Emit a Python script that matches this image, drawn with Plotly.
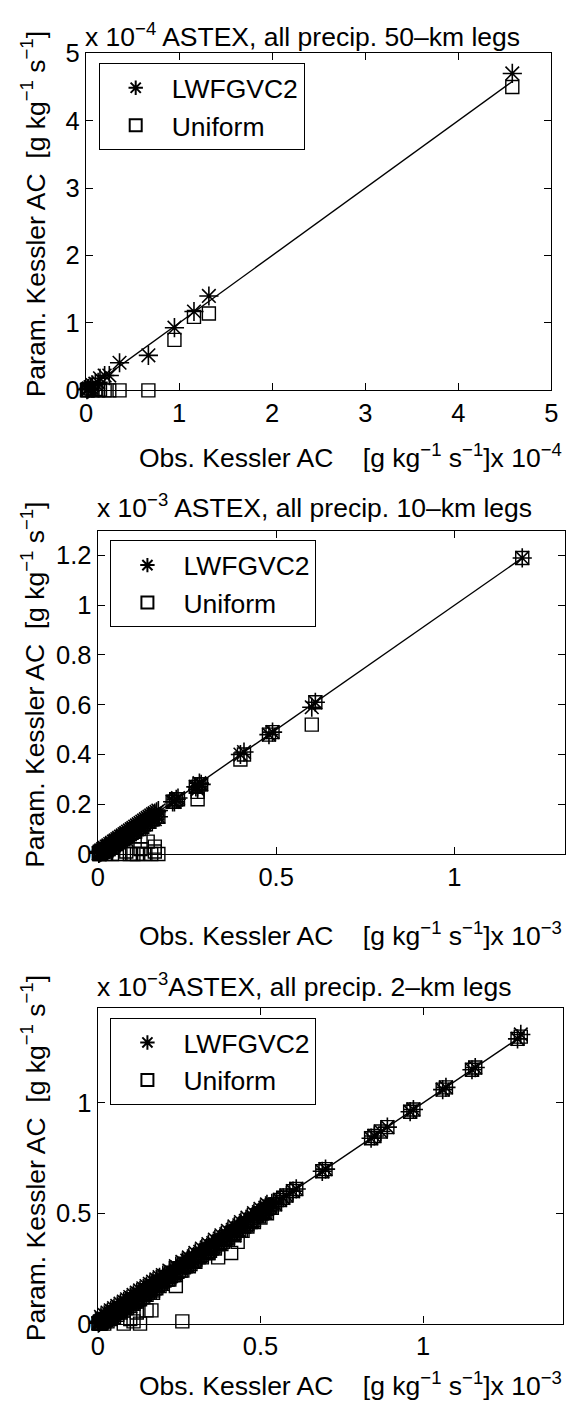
import plotly.graph_objects as go

# ---------------- data (values in units of the axis multiplier) ----------------
# Panel 1: 50-km legs, x 1e-4 g/kg/s
obs_50 = [4.58, 1.32, 1.16, 0.95, 0.67, 0.36, 0.25, 0.20, 0.15, 0.13, 0.10, 0.07, 0.05, 0.03, 0.02, 0.01]
lwf_50 = [4.70, 1.40, 1.17, 0.93, 0.52, 0.41, 0.22, 0.22, 0.18, 0.12, 0.10, 0.08, 0.05, 0.03, 0.02, 0.01]
uni_50 = [4.50, 1.14, 1.09, 0.75, 0.00, 0.00, 0.00, 0.00, 0.01, 0.00, 0.02, 0.00, 0.03, 0.01, 0.00, 0.00]

# Panel 2: 10-km legs, x 1e-3 g/kg/s
obs_10a = [1.19, 0.61, 0.60, 0.49, 0.48, 0.41, 0.40, 0.29, 0.28, 0.28, 0.22, 0.21, 0.17, 0.16, 0.16,
           0.15, 0.14, 0.13, 0.12, 0.12, 0.11, 0.10, 0.10, 0.09, 0.08, 0.08, 0.07, 0.06, 0.06, 0.05,
           0.05, 0.04, 0.04, 0.03, 0.03, 0.02, 0.02, 0.015, 0.01, 0.008, 0.005, 0.003]
lwf_10a = [1.19, 0.61, 0.59, 0.49, 0.48, 0.41, 0.40, 0.28, 0.27, 0.26, 0.22, 0.21, 0.15, 0.16, 0.14,
           0.14, 0.13, 0.12, 0.11, 0.11, 0.10, 0.10, 0.09, 0.08, 0.08, 0.07, 0.07, 0.06, 0.05, 0.05,
           0.05, 0.04, 0.04, 0.03, 0.03, 0.02, 0.02, 0.015, 0.01, 0.008, 0.005, 0.003]
uni_10a = [1.19, 0.61, 0.52, 0.49, 0.48, 0.40, 0.38, 0.28, 0.25, 0.22, 0.22, 0.21, 0.00, 0.01, 0.03,
           0.00, 0.05, 0.00, 0.07, 0.02, 0.00, 0.09, 0.00, 0.00, 0.07, 0.01, 0.06, 0.05, 0.00, 0.05,
           0.04, 0.03, 0.00, 0.03, 0.02, 0.02, 0.00, 0.01, 0.01, 0.008, 0.00, 0.003]
obs_10b = [0.285, 0.275, 0.225, 0.215, 0.17, 0.165, 0.16, 0.155, 0.15, 0.145, 0.14, 0.135, 0.13,
           0.125, 0.12, 0.115, 0.11, 0.105, 0.10, 0.095, 0.09, 0.085, 0.08, 0.075, 0.07, 0.065,
           0.06, 0.055, 0.05, 0.045, 0.04, 0.035, 0.03, 0.025, 0.02, 0.015, 0.01, 0.005]
lwf_10b = [0.285, 0.27, 0.225, 0.21, 0.175, 0.17, 0.165, 0.16, 0.155, 0.15, 0.145, 0.14, 0.135,
           0.13, 0.125, 0.12, 0.115, 0.11, 0.105, 0.10, 0.095, 0.09, 0.085, 0.08, 0.075, 0.07,
           0.065, 0.06, 0.055, 0.05, 0.045, 0.04, 0.035, 0.03, 0.025, 0.02, 0.015, 0.01]
uni_10b = [0.28, 0.27, 0.22, 0.21, 0.15, 0.15, 0.15, 0.14, 0.14, 0.13, 0.13, 0.12, 0.12,
           0.11, 0.11, 0.10, 0.10, 0.09, 0.09, 0.085, 0.08, 0.075, 0.07, 0.065, 0.06, 0.055,
           0.05, 0.045, 0.04, 0.035, 0.03, 0.025, 0.02, 0.015, 0.01, 0.01, 0.005, 0.0]
obs_10 = obs_10a + obs_10b
lwf_10 = lwf_10a + lwf_10b
uni_10 = uni_10a + uni_10b

# Panel 3: 2-km legs, x 1e-3 g/kg/s
obs_2a = [1.30, 1.29, 1.16, 1.15, 1.07, 1.06, 0.97, 0.96, 0.89, 0.87,
          0.85, 0.84, 0.70, 0.69, 0.61, 0.60, 0.58, 0.57, 0.56, 0.545,
          0.53, 0.52, 0.51, 0.505, 0.50, 0.49, 0.48, 0.47, 0.46, 0.45,
          0.445, 0.43, 0.425, 0.42, 0.41, 0.40, 0.39, 0.385, 0.37, 0.36,
          0.35, 0.345, 0.34, 0.33, 0.32, 0.31, 0.30, 0.29, 0.285, 0.28,
          0.27, 0.26, 0.255, 0.25, 0.24, 0.235, 0.23, 0.22, 0.215, 0.21,
          0.20, 0.195, 0.19, 0.18, 0.175, 0.17, 0.165, 0.16, 0.155, 0.15,
          0.145, 0.14, 0.135, 0.13, 0.125, 0.12, 0.115, 0.11, 0.105, 0.10,
          0.095, 0.09, 0.085, 0.08, 0.075, 0.07, 0.065, 0.06, 0.055, 0.05,
          0.045, 0.04, 0.035, 0.03, 0.025, 0.02, 0.015, 0.01, 0.005, 0.002]
lwf_2a = [1.31, 1.29, 1.16, 1.15, 1.07, 1.06, 0.97, 0.96, 0.89, 0.87,
          0.85, 0.84, 0.70, 0.69, 0.61, 0.60, 0.58, 0.57, 0.56, 0.54,
          0.53, 0.52, 0.51, 0.50, 0.50, 0.49, 0.48, 0.47, 0.46, 0.45,
          0.44, 0.43, 0.42, 0.40, 0.41, 0.40, 0.39, 0.38, 0.37, 0.36,
          0.35, 0.34, 0.33, 0.33, 0.32, 0.31, 0.30, 0.29, 0.28, 0.28,
          0.27, 0.26, 0.25, 0.25, 0.24, 0.23, 0.23, 0.22, 0.21, 0.21,
          0.20, 0.19, 0.19, 0.18, 0.17, 0.17, 0.16, 0.16, 0.15, 0.15,
          0.14, 0.14, 0.13, 0.13, 0.12, 0.12, 0.11, 0.11, 0.10, 0.10,
          0.09, 0.09, 0.08, 0.08, 0.07, 0.07, 0.06, 0.06, 0.05, 0.05,
          0.04, 0.04, 0.03, 0.03, 0.02, 0.02, 0.015, 0.01, 0.005, 0.002]
uni_2a = [1.30, 1.29, 1.16, 1.15, 1.07, 1.06, 0.97, 0.96, 0.89, 0.87,
          0.85, 0.84, 0.70, 0.69, 0.61, 0.60, 0.58, 0.57, 0.56, 0.54,
          0.53, 0.52, 0.51, 0.50, 0.50, 0.49, 0.47, 0.46, 0.45, 0.44,
          0.42, 0.37, 0.42, 0.41, 0.32, 0.39, 0.38, 0.37, 0.30, 0.35,
          0.34, 0.33, 0.32, 0.32, 0.31, 0.30, 0.29, 0.28, 0.27, 0.27,
          0.26, 0.01, 0.24, 0.24, 0.17, 0.22, 0.22, 0.21, 0.20, 0.20,
          0.19, 0.18, 0.18, 0.17, 0.16, 0.14, 0.06, 0.15, 0.14, 0.06,
          0.13, 0.13, 0.12, 0.00, 0.11, 0.05, 0.10, 0.01, 0.09, 0.02,
          0.08, 0.08, 0.07, 0.00, 0.07, 0.06, 0.06, 0.05, 0.05, 0.04,
          0.04, 0.03, 0.03, 0.02, 0.02, 0.01, 0.01, 0.01, 0.00, 0.00]
obs_2b = [0.52, 0.50, 0.48, 0.46, 0.44, 0.42, 0.40, 0.38, 0.36, 0.34,
          0.32, 0.30, 0.28, 0.26, 0.24, 0.22, 0.20, 0.19, 0.18, 0.17,
          0.16, 0.15, 0.14, 0.13, 0.12, 0.11, 0.10, 0.09, 0.08, 0.07,
          0.06, 0.05, 0.04, 0.03, 0.02, 0.01]
lwf_2b = [0.54, 0.52, 0.50, 0.48, 0.46, 0.44, 0.42, 0.40, 0.38, 0.36,
          0.34, 0.32, 0.30, 0.28, 0.26, 0.24, 0.22, 0.21, 0.20, 0.19,
          0.18, 0.17, 0.16, 0.15, 0.14, 0.13, 0.12, 0.11, 0.10, 0.09,
          0.08, 0.07, 0.06, 0.05, 0.04, 0.03]
uni_2b = [0.50, 0.48, 0.46, 0.44, 0.42, 0.40, 0.38, 0.36, 0.34, 0.32,
          0.30, 0.28, 0.26, 0.24, 0.22, 0.20, 0.18, 0.17, 0.16, 0.15,
          0.14, 0.13, 0.12, 0.11, 0.10, 0.09, 0.08, 0.07, 0.06, 0.05,
          0.04, 0.03, 0.02, 0.01, 0.00, 0.00]
obs_2c = [0.535, 0.515, 0.495, 0.475, 0.455, 0.435, 0.415, 0.395, 0.375, 0.355,
          0.335, 0.315, 0.295, 0.275, 0.265, 0.245, 0.225, 0.205, 0.185, 0.165,
          0.145, 0.125, 0.105, 0.085, 0.065, 0.045, 0.025, 0.012, 0.006]
lwf_2c = [0.545, 0.525, 0.505, 0.485, 0.465, 0.445, 0.425, 0.405, 0.385, 0.365,
          0.345, 0.325, 0.305, 0.285, 0.275, 0.255, 0.235, 0.215, 0.195, 0.175,
          0.155, 0.135, 0.115, 0.095, 0.075, 0.055, 0.035, 0.020, 0.010]
uni_2c = [0.525, 0.505, 0.485, 0.465, 0.445, 0.425, 0.405, 0.385, 0.365, 0.345,
          0.325, 0.305, 0.285, 0.265, 0.255, 0.235, 0.215, 0.195, 0.175, 0.155,
          0.135, 0.115, 0.095, 0.075, 0.055, 0.035, 0.015, 0.005, 0.000]
obs_2 = obs_2a + obs_2b + obs_2c
lwf_2 = lwf_2a + lwf_2b + lwf_2c
uni_2 = uni_2a + uni_2b + uni_2c

panels = [
    dict(obs=obs_50, lwf=lwf_50, uni=uni_50, exp="4", title_sep=" ", km="50",
         xr=[0, 5], yr=[0, 5], xt=[0, 1, 2, 3, 4, 5], yt=[0, 1, 2, 3, 4, 5],
         box=(81, 558, 40, 384), title_y=21, xlab_y=451),
    dict(obs=obs_10, lwf=lwf_10, uni=uni_10, exp="3", title_sep=" ", km="10",
         xr=[0, 1.31], yr=[0, 1.30], xt=[0, 0.5, 1], yt=[0, 0.2, 0.4, 0.6, 0.8, 1, 1.2],
         box=(93, 572, 527, 857), title_y=502, xlab_y=939),
    dict(obs=obs_2, lwf=lwf_2, uni=uni_2, exp="3", title_sep="", km="2",
         xr=[0, 1.43], yr=[0, 1.43], xt=[0, 0.5, 1], yt=[0, 0.5, 1],
         box=(93, 570, 1014, 1336), title_y=991, xlab_y=1398),
]

W, H = 574, 1416
FONT = "Liberation Sans, Arial, Helvetica, sans-serif"
FS = 26.5      # titles, axis labels, legend
FS_TICK = 25.5


def fx(px):
    return px / W


def fy(py):
    return 1 - py / H


NB = "\u00a0"
UNITS = "[g kg<sup>\u22121</sup> s<sup>\u22121</sup>]"

fig = go.Figure()
annotations = []

for i, p in enumerate(panels):
    n = "" if i == 0 else str(i + 1)
    xa, ya = "x" + n, "y" + n
    x0, x1, y0, y1 = p["box"]
    lg = "legend" + n

    # 1:1 reference line over the observed range
    top = max(p["obs"])
    fig.add_trace(go.Scatter(x=[0, top], y=[0, top], mode="lines",
                             line=dict(color="black", width=1.4),
                             xaxis=xa, yaxis=ya, showlegend=False, hoverinfo="skip"))
    fig.add_trace(go.Scatter(x=p["obs"], y=p["lwf"], mode="markers", name="LWFGVC2",
                             marker=dict(symbol="asterisk-open", size=16,
                                         line=dict(color="black", width=1.6), color="black"),
                             xaxis=xa, yaxis=ya, legend=lg, cliponaxis=False))
    fig.add_trace(go.Scatter(x=p["obs"], y=p["uni"], mode="markers", name="Uniform",
                             marker=dict(symbol="square-open", size=13,
                                         line=dict(color="black", width=1.4), color="black"),
                             xaxis=xa, yaxis=ya, legend=lg, cliponaxis=False))

    axis_common = dict(showline=True, linecolor="black", linewidth=1.4, mirror="ticks",
                       ticks="inside", ticklen=7, tickcolor="black", showgrid=False,
                       zeroline=False, tickfont=dict(family=FONT, size=FS_TICK, color="black"))
    fig.update_layout(**{
        "xaxis" + n: dict(domain=[fx(x0), fx(x1)], range=p["xr"], tickvals=p["xt"],
                          anchor=ya, **axis_common),
        "yaxis" + n: dict(domain=[fy(y1), fy(y0)], range=p["yr"], tickvals=p["yt"],
                          anchor=xa, **axis_common),
        lg: dict(x=fx(x0 + 13), y=fy(y0 + 10), xanchor="left", yanchor="top",
                 bordercolor="black", borderwidth=1, bgcolor="white",
                 font=dict(family=FONT, size=FS, color="black"),
                 itemsizing="constant", itemwidth=62, tracegroupgap=0),
    })

    ex = "<sup>\u2212" + p["exp"] + "</sup>"
    # panel title with exponent multiplier
    annotations.append(dict(
        text="x 10" + ex + p["title_sep"] + "ASTEX, all precip. " + p["km"] + "\u2013km legs",
        x=fx(x0 - 3), y=fy(p["title_y"]), xref="paper", yref="paper",
        xanchor="left", yanchor="middle", showarrow=False,
        font=dict(family=FONT, size=FS, color="black")))
    # x-axis label
    annotations.append(dict(
        text="Obs. Kessler AC" + NB * 4 + UNITS + "x 10" + ex,
        x=fx(571), y=fy(p["xlab_y"]), xref="paper", yref="paper",
        xanchor="right", yanchor="middle", showarrow=False,
        font=dict(family=FONT, size=FS, color="black")))
    # y-axis label
    annotations.append(dict(
        text="Param. Kessler AC" + NB * 2 + UNITS,
        x=fx(27), y=fy((y0 + y1) / 2 - 8), xref="paper", yref="paper",
        xanchor="center", yanchor="middle", textangle=-90, showarrow=False,
        font=dict(family=FONT, size=FS, color="black")))

fig.update_layout(width=W, height=H, margin=dict(l=0, r=0, t=0, b=0),
                  paper_bgcolor="white", plot_bgcolor="white",
                  annotations=annotations, font=dict(family=FONT, size=FS, color="black"))

fig.write_html("out.html")
